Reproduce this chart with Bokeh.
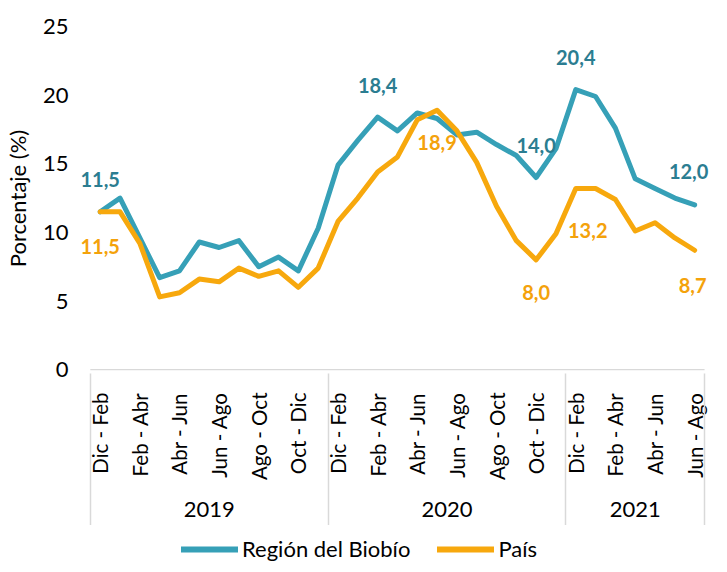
import math
from bokeh.plotting import figure
from bokeh.layouts import column
from bokeh.models import (ColumnDataSource, Range1d, LinearAxis, FixedTicker,
                          Legend, LegendItem, LabelSet)
from bokeh.core.properties import value
from bokeh.embed import file_html
from bokeh.resources import INLINE

# ---------------- data ----------------
periodos_base = ["Dic - Feb", "Ene - Mar", "Feb - Abr", "Mar - May", "Abr - Jun",
                 "May - Jul", "Jun - Ago", "Jul - Sep", "Ago - Oct", "Sep - Nov",
                 "Oct - Dic", "Nov - Ene"]
periodos = periodos_base + periodos_base + periodos_base[:7]
anios = ["2019"] * 12 + ["2020"] * 12 + ["2021"] * 7

biobio = [11.5, 12.5, 9.6, 6.7, 7.2, 9.3, 8.9, 9.4, 7.5, 8.2, 7.2, 10.3,
          14.9, 16.7, 18.4, 17.4, 18.7, 18.3, 17.1, 17.3, 16.4, 15.6, 14.0, 16.1,
          20.4, 19.9, 17.6, 13.9, 13.2, 12.5, 12.0]
pais = [11.5, 11.5, 9.2, 5.3, 5.6, 6.6, 6.4, 7.4, 6.8, 7.2, 6.0, 7.4,
        10.8, 12.5, 14.4, 15.5, 18.2, 18.9, 17.4, 15.1, 11.9, 9.4, 8.0, 9.9,
        13.2, 13.2, 12.4, 10.1, 10.7, 9.6, 8.7]

y_ticks = [0, 5, 10, 15, 20, 25]
biobio_lbl_idx = [0, 14, 22, 24, 30]
pais_lbl_idx = [0, 17, 22, 24, 30]

series_names = ["Región del Biobío", "País"]
y_title = "Porcentaje (%)"

# ---------------- styles ----------------
FONT = "Lato"
TEAL = "#36A0B7"
TEAL_LBL = "#2B7D91"
ORANGE = "#F7A80D"
ORANGE_LBL = "#F4A20B"
GRID = "#D9D9D9"
TXT = "#000000"
biobio_lbl_dx = [0, 0, 0, 0, -6]
biobio_lbl_dy = [32, 32, 32, 32, 33]      # upward (screen px)
pais_lbl_dx = [0, 0, 0, 12, -2]
pais_lbl_dy = [-35, -32, -33, -42, -35]   # downward (screen px)

n = len(periodos)
xs = list(range(n))

MAIN_H = 525
LEG_H = 37
PAD_L = 1.0    # extra room (in categories) left of the first group for edge labels
PAD_R = 0.35

p = figure(width=711, height=MAIN_H, output_backend="svg", toolbar_location=None, tools="",
           x_range=Range1d(-0.5 - PAD_L, n - 0.5 + PAD_R), y_range=Range1d(-0.06, 25),
           min_border_left=64, min_border_right=0, min_border_top=26,
           min_border_bottom=152)
p.outline_line_color = None
p.grid.visible = False
p.background_fill_color = "white"

# y axis
ya = p.yaxis[0]
ya.ticker = FixedTicker(ticks=y_ticks)
ya.axis_line_color = None
ya.major_tick_line_color = None
ya.minor_tick_line_color = None
ya.major_tick_out = 0
ya.major_tick_in = 0
ya.major_label_standoff = 2
ya.major_label_text_font = FONT
ya.major_label_text_font_size = "22px"
ya.major_label_text_color = TXT
ya.axis_label = y_title
ya.axis_label_text_font = FONT
ya.axis_label_text_font_size = "22px"
ya.axis_label_text_font_style = "normal"
ya.axis_label_text_color = TXT
ya.axis_label_standoff = 9

# x axis: period labels (every other one)
xa = p.xaxis[0]
shown = list(range(0, n, 2))
xa.ticker = FixedTicker(ticks=shown)
xa.major_label_overrides = {i: periodos[i] for i in shown}
xa.major_label_orientation = math.pi / 2
xa.axis_line_color = None
xa.major_tick_line_color = None
xa.minor_tick_line_color = None
xa.major_tick_out = 0
xa.major_tick_in = 0
xa.major_label_standoff = 22
xa.major_label_text_font = FONT
xa.major_label_text_font_size = "20.5px"
xa.major_label_text_color = TXT

# year groups
groups = []
for i, a in enumerate(anios):
    if not groups or groups[-1][0] != a:
        groups.append([a, i, i])
    else:
        groups[-1][2] = i
centers = [(g[1] + g[2]) / 2 for g in groups]
bounds = [groups[0][1] - 0.5] + [g[2] + 0.5 for g in groups]

yr_axis = LinearAxis(ticker=FixedTicker(ticks=centers),
                     major_label_overrides={c: g[0] for c, g in zip(centers, groups)})
yr_axis.axis_line_color = None
yr_axis.major_tick_line_color = None
yr_axis.minor_tick_line_color = None
yr_axis.major_tick_out = 0
yr_axis.major_tick_in = 0
yr_axis.major_label_standoff = 18
yr_axis.major_label_text_font = FONT
yr_axis.major_label_text_font_size = "22px"
yr_axis.major_label_text_color = TXT
p.add_layout(yr_axis, "below")

sep_axis = LinearAxis(ticker=FixedTicker(ticks=bounds),
                      major_label_overrides={b: "" for b in bounds})
sep_axis.axis_line_color = None
sep_axis.major_tick_line_color = GRID
sep_axis.major_tick_line_width = 1.5
sep_axis.minor_tick_line_color = None
sep_axis.major_tick_out = 6
sep_axis.major_tick_in = 146
sep_axis.major_label_standoff = 0
sep_axis.major_label_text_font_size = "1px"
p.add_layout(sep_axis, "below")

# category axis base line (only across the categories)
p.segment(x0=[bounds[0]], y0=[0], x1=[bounds[-1]], y1=[0], line_color=GRID, line_width=1.5)

# lines
r1 = p.line(xs, biobio, line_color=TEAL, line_width=5, line_join="round", line_cap="round")
r2 = p.line(xs, pais, line_color=ORANGE, line_width=5, line_join="round", line_cap="round")

# data labels
def fmt(v):
    return f"{v:.1f}".replace(".", ",")

b_src = ColumnDataSource(dict(x=biobio_lbl_idx, y=[biobio[i] for i in biobio_lbl_idx],
                              t=[fmt(biobio[i]) for i in biobio_lbl_idx],
                              dx=biobio_lbl_dx, dy=biobio_lbl_dy))
p.add_layout(LabelSet(x="x", y="y", text="t", source=b_src, x_offset="dx", y_offset="dy",
                      text_font=value(FONT), text_font_style="bold", text_font_size="20px",
                      text_color=TEAL_LBL, text_align="center", text_baseline="middle"))

p_src = ColumnDataSource(dict(x=pais_lbl_idx, y=[pais[i] for i in pais_lbl_idx],
                              t=[fmt(pais[i]) for i in pais_lbl_idx],
                              dx=pais_lbl_dx, dy=pais_lbl_dy))
p.add_layout(LabelSet(x="x", y="y", text="t", source=p_src, x_offset="dx", y_offset="dy",
                      text_font=value(FONT), text_font_style="bold", text_font_size="20px",
                      text_color=ORANGE_LBL, text_align="center", text_baseline="middle"))

# legend in its own strip below the chart (its frame is aligned with the chart's frame)
lf = figure(width=711, height=LEG_H, output_backend="svg", toolbar_location=None, tools="",
            x_range=Range1d(0, 1), y_range=Range1d(-100, -99),
            x_axis_location=None, y_axis_location=None,
            min_border_left=0, min_border_right=0, min_border_top=0, min_border_bottom=0)
lf.outline_line_color = None
lf.grid.visible = False
l1 = lf.line(xs, biobio, line_color=TEAL, line_width=6, line_cap="round")
l2 = lf.line(xs, pais, line_color=ORANGE, line_width=6, line_cap="round")
legend = Legend(items=[LegendItem(label=series_names[0], renderers=[l1]),
                       LegendItem(label=series_names[1], renderers=[l2])],
                orientation="horizontal", location=(111, 0))
legend.label_text_font = FONT
legend.label_text_font_size = "22px"
legend.label_text_color = TXT
legend.glyph_width = 57
legend.glyph_height = 20
legend.label_standoff = 4
legend.spacing = 27
legend.padding = 0
legend.margin = 0
legend.border_line_color = None
legend.background_fill_alpha = 0
lf.add_layout(legend, "center")

layout = column(p, lf, spacing=0)
open("out.html", "w").write(file_html(layout, INLINE))
